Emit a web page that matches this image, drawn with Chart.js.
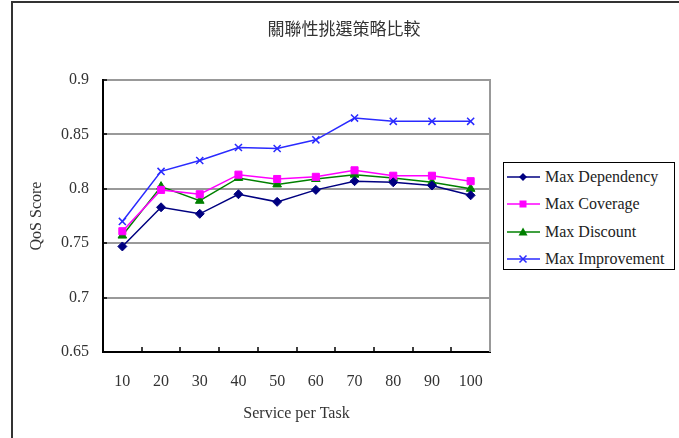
<!DOCTYPE html>
<html>
<head>
<meta charset="utf-8">
<script src="https://cdn.jsdelivr.net/npm/chart.js@4.4.1/dist/chart.umd.min.js"></script>
<style>
  body { margin: 0; background: #fff; }
  #wrap { position: relative; width: 679px; height: 438px; overflow: hidden; }
  #legend {
    position: absolute; left: 503px; top: 162px; width: 170px; height: 106px;
    border: 1px solid #000; background: #fff;
    font: 16px "Liberation Serif", serif; color: #222;
  }
  .row { height: 27.5px; display: flex; align-items: center; white-space: nowrap; }
  .row svg { margin: 0 5px 0 3px; flex: none; }
</style>
</head>
<body>
<div id="wrap">
  <canvas id="chart" width="679" height="438"></canvas>
  <div id="legend"></div>
</div>
<script>
const categories = ['10', '20', '30', '40', '50', '60', '70', '80', '90', '100'];
const seriesNames = ['Max Dependency', 'Max Coverage', 'Max Discount', 'Max Improvement'];
const maxDependency = [0.747, 0.783, 0.777, 0.795, 0.788, 0.799, 0.807, 0.806, 0.803, 0.794];
const maxCoverage = [0.761, 0.799, 0.795, 0.813, 0.809, 0.811, 0.817, 0.812, 0.812, 0.807];
const maxDiscount = [0.757, 0.802, 0.789, 0.810, 0.804, 0.809, 0.813, 0.810, 0.806, 0.800];
const maxImprovement = [0.770, 0.816, 0.826, 0.838, 0.837, 0.845, 0.865, 0.862, 0.862, 0.862];
const yTicks = [0.65, 0.7, 0.75, 0.8, 0.85, 0.9];

const colors = ['#000080', '#ff00ff', '#008000', '#2a2aff'];
const markers = ['rectRot', 'rect', 'triangle', 'crossRot'];
const radii = [4.5, 5, 5, 5];
const values = [maxDependency, maxCoverage, maxDiscount, maxImprovement];

Chart.defaults.font.family = '"Liberation Serif", serif';
Chart.defaults.font.size = 16;
Chart.defaults.color = '#333';

// extra frame: right border, inward tick marks, outer chart border
const framePlugin = {
  id: 'frame',
  beforeDatasetsDraw(chart) {
    const ctx = chart.ctx;
    const a = chart.chartArea;
    const xs = chart.scales.x;
    const ys = chart.scales.y;
    ctx.save();
    ctx.strokeStyle = '#999';
    ctx.lineWidth = 2;
    ctx.beginPath();
    ctx.moveTo(a.right, a.top - 1);
    ctx.lineTo(a.right, a.bottom);
    ctx.stroke();

    ctx.strokeStyle = '#000';
    ctx.lineWidth = 1.5;
    ctx.beginPath();
    for (let i = 1; i < categories.length; i++) {
      const x = Math.round((xs.getPixelForTick(i - 1) + xs.getPixelForTick(i)) / 2);
      ctx.moveTo(x, a.bottom);
      ctx.lineTo(x, a.bottom - 5);
    }
    yTicks.forEach(v => {
      const y = Math.round(ys.getPixelForValue(v));
      ctx.moveTo(a.left, y);
      ctx.lineTo(a.left + 4, y);
    });
    ctx.stroke();

    ctx.strokeStyle = '#333';
    ctx.lineWidth = 2;
    ctx.beginPath();
    ctx.moveTo(12, chart.height);
    ctx.lineTo(12, 2);
    ctx.lineTo(chart.width, 2);
    ctx.stroke();
    ctx.restore();
  }
};

new Chart(document.getElementById('chart'), {
  type: 'line',
  data: {
    labels: categories,
    datasets: seriesNames.map((name, i) => ({
      label: name,
      data: values[i],
      borderColor: colors[i],
      backgroundColor: colors[i],
      borderWidth: 1.5,
      pointStyle: markers[i],
      pointRadius: radii[i],
      pointBorderWidth: markers[i] === 'crossRot' ? 1.5 : 1,
      tension: 0
    }))
  },
  options: {
    responsive: false,
    animation: false,
    layout: { padding: { left: 9, right: 0, top: 18, bottom: 0 } },
    plugins: {
      legend: { display: false },
      tooltip: { enabled: false },
      title: {
        display: true,
        text: '關聯性挑選策略比較',
        font: { family: '"Noto Sans CJK TC", sans-serif', size: 17, weight: 'normal' },
        color: '#333',
        padding: { top: 0, bottom: 41.6 }
      }
    },
    scales: {
      x: {
        offset: true,
        grid: { display: true, drawOnChartArea: false, drawTicks: false },
        border: { color: '#000', width: 2 },
        ticks: { padding: 20 },
        title: { display: true, text: 'Service per Task', padding: { top: 0, bottom: 14.4 } },
        afterFit(scale) { scale.height = 86; }
      },
      y: {
        min: 0.65,
        max: 0.9,
        grid: { color: '#999', lineWidth: 2, drawTicks: false },
        border: { color: '#000', width: 2 },
        ticks: {
          stepSize: 0.05,
          padding: 14,
          callback: v => String(Number(v.toFixed(2)))
        },
        title: { display: true, text: 'QoS Score', padding: { top: 18.4, bottom: 0 } },
        afterFit(scale) { scale.width = 94; }
      },
      // empty right-hand space that holds the legend box
      side: {
        position: 'right',
        grid: { display: false, drawTicks: false },
        border: { display: false },
        ticks: { display: false },
        afterFit(scale) { scale.width = 189; }
      }
    }
  },
  plugins: [framePlugin]
});

// legend box built from the same series
const legend = document.getElementById('legend');
seriesNames.forEach((name, i) => {
  const c = colors[i];
  let mark = '';
  if (markers[i] === 'rectRot') mark = `<polygon points="16,3 20,7 16,11 12,7" fill="${c}"/>`;
  if (markers[i] === 'rect') mark = `<rect x="12.5" y="3.5" width="7" height="7" fill="${c}"/>`;
  if (markers[i] === 'triangle') mark = `<polygon points="16,2.5 20.5,10.5 11.5,10.5" fill="${c}"/>`;
  if (markers[i] === 'crossRot') mark = `<path d="M12.5,3.5 L19.5,10.5 M19.5,3.5 L12.5,10.5" stroke="${c}" stroke-width="1.5"/>`;
  const row = document.createElement('div');
  row.className = 'row';
  row.innerHTML = `<svg width="33" height="14"><line x1="0" y1="7" x2="33" y2="7" stroke="${c}" stroke-width="1.5"/>${mark}</svg><span>${name}</span>`;
  legend.appendChild(row);
});
</script>
</body>
</html>
